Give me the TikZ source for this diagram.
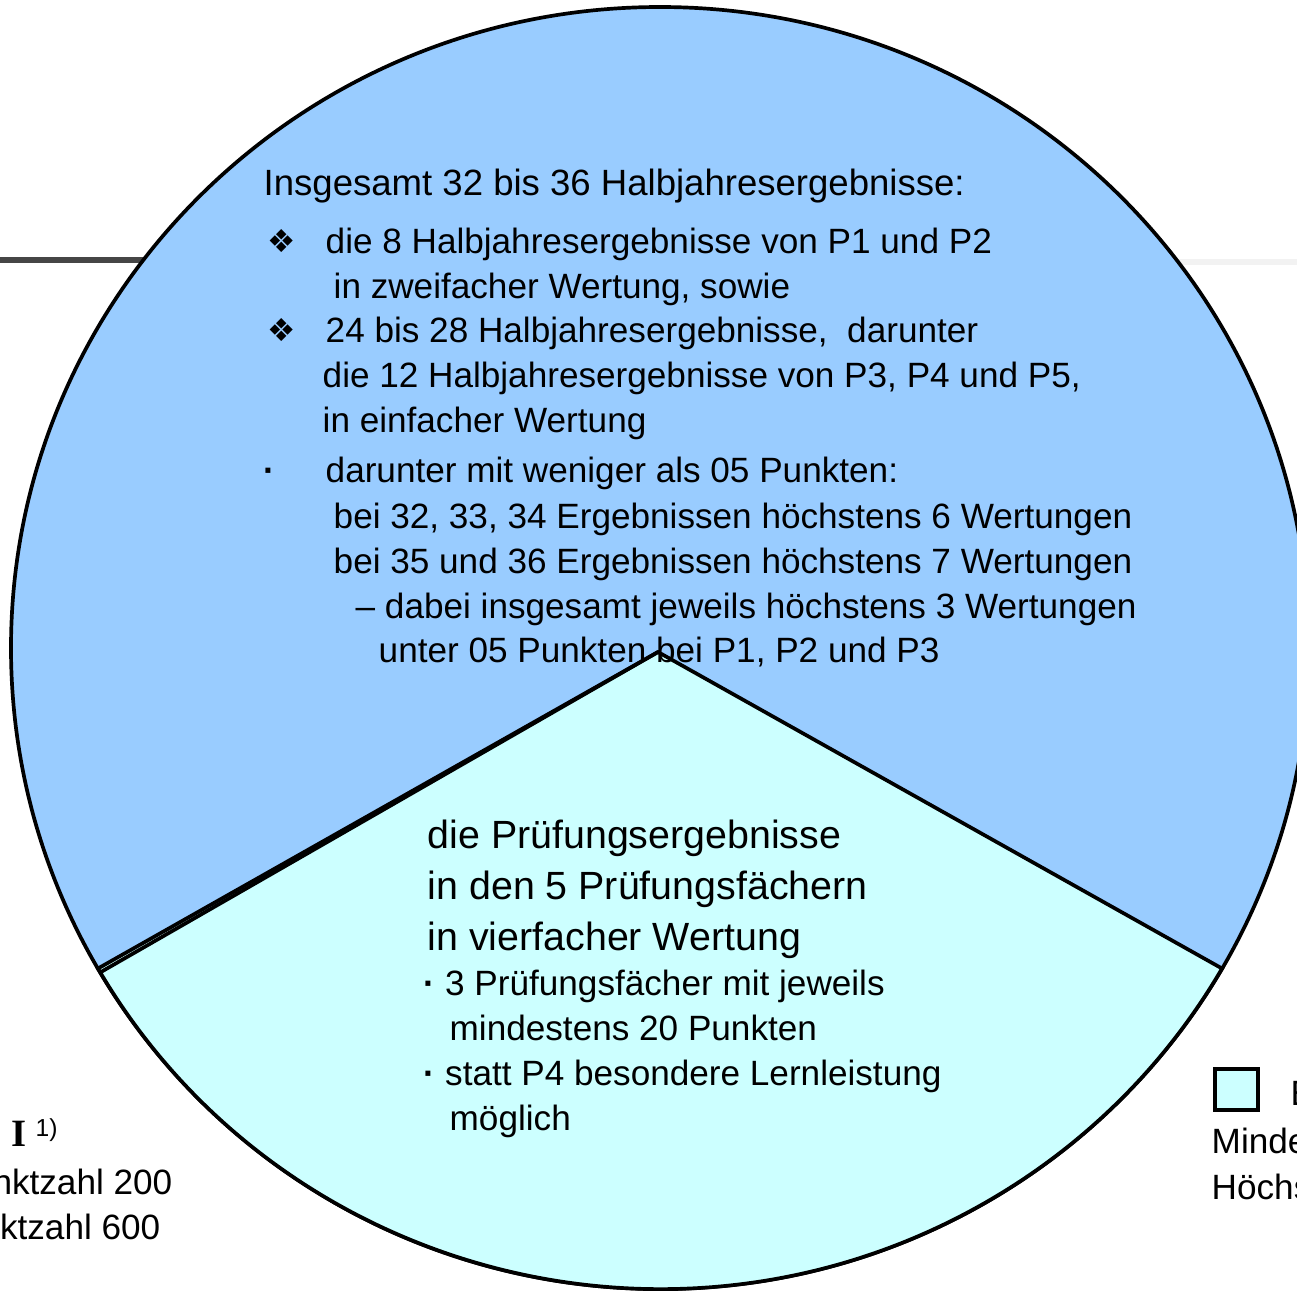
\documentclass[tikz,border=0pt]{standalone}
\usepackage{fontspec}
\usepackage{xcolor}
\setmainfont{Liberation Sans}
\newfontfamily\symfont{DejaVu Sans}
\newfontfamily\seriffont{Liberation Serif}
\usetikzlibrary{calc}
\definecolor{pieblue}{RGB}{153,204,255}
\definecolor{piecyan}{RGB}{204,255,255}
\definecolor{darkrule}{RGB}{70,70,70}
\definecolor{lightrule}{RGB}{242,242,242}

\tikzset{
  txt/.style={anchor=base west, inner sep=0pt, font=\fontsize{10}{12}\selectfont},
  bigtxt/.style={anchor=base west, inner sep=0pt, font=\fontsize{11.2}{13}\selectfont},
  sym/.style={anchor=base west, inner sep=0pt, font=\symfont\fontsize{9}{11}\selectfont},
  edge/.style={line width=1.05pt}
}

\begin{document}
\begin{tikzpicture}
  \useasboundingbox (0,0) rectangle (12.97,-12.90);
  \clip (0,0) rectangle (12.97,-12.90);

  % rules behind the chart
  \fill[darkrule] (0,-2.57) rectangle (1.6,-2.63);
  \fill[lightrule] (11.6,-2.59) rectangle (12.97,-2.65);

  % pie
  \coordinate (ec) at (6.60,-6.48);
  \coordinate (apex) at (6.58,-6.52);
  \filldraw[fill=pieblue, edge] (ec) ellipse [x radius=6.49, y radius=6.41];
  \filldraw[fill=piecyan, edge] (apex) -- ($(ec)+(210:6.49 and 6.41)$)
    arc[start angle=210, end angle=330, x radius=6.49, y radius=6.41] -- cycle;
  \draw[edge] (apex) -- ($(ec)+(210.4:6.49 and 6.41)$);

  % upper slice
  \node[txt, font=\fontsize{10.4}{12}\selectfont] (head) at (2.63,-1.95) {Insgesamt 32 bis 36 Halbjahresergebnisse:};
  \node[sym] (s1) at (2.67,-2.52) {❖};
  \node[txt] (a1) at (3.25,-2.53) {die 8 Halbjahresergebnisse von P1 und P2};
  \node[txt] (a2) at (3.33,-2.98) {in zweifacher Wertung, sowie};
  \node[sym] (s2) at (2.67,-3.41) {❖};
  \node[txt] (b1) at (3.25,-3.42) {24 bis 28 Halbjahresergebnisse,\ \ darunter};
  \node[txt] (b2) at (3.22,-3.87) {die 12 Halbjahresergebnisse von P3, P4 und P5,};
  \node[txt] (b3) at (3.22,-4.32) {in einfacher Wertung};
  \node[txt] (s3) at (2.63,-4.82) {\textbf{·}};
  \node[txt] (c1) at (3.25,-4.82) {darunter mit weniger als 05 Punkten:};
  \node[txt] (c2) at (3.33,-5.28) {bei 32, 33, 34 Ergebnissen höchstens 6 Wertungen};
  \node[txt] (c3) at (3.33,-5.73) {bei 35 und 36 Ergebnissen höchstens 7 Wertungen};
  \node[txt] (c4) at (3.55,-6.18) {– dabei insgesamt jeweils höchstens 3 Wertungen};
  \node[txt] (c5) at (3.78,-6.62) {unter 05 Punkten bei P1, P2 und P3};

  % lower slice
  \node[bigtxt] (p1) at (4.27,-8.48) {die Prüfungsergebnisse};
  \node[bigtxt] (p2) at (4.27,-8.99) {in den 5 Prüfungsfächern};
  \node[bigtxt] (p3) at (4.27,-9.50) {in vierfacher Wertung};
  \node[txt] (q1) at (4.23,-9.95) {\textbf{·} 3 Prüfungsfächer mit jeweils};
  \node[txt] (q2) at (4.49,-10.40) {mindestens 20 Punkten};
  \node[txt] (q3) at (4.23,-10.85) {\textbf{·} statt P4 besondere Lernleistung};
  \node[txt] (q4) at (4.49,-11.30) {möglich};

  % cut-off legend on the left
  \node[anchor=base west, inner sep=0pt, font=\seriffont\bfseries\fontsize{11}{13}\selectfont] (roman) at (0.11,-11.46) {I};
  \node[anchor=base west, inner sep=0pt, font=\fontsize{7}{8}\selectfont] (fn) at (0.35,-11.36) {1)};
  \node[txt, anchor=base east] (minl) at (1.73,-11.94) {nktzahl 200};
  \node[txt, anchor=base east] (maxl) at (1.61,-12.39) {ktzahl 600};

  % cut-off legend on the right
  \filldraw[fill=piecyan, edge] (12.15,-10.69) rectangle (12.58,-11.10);
  \node[txt] (keyr) at (12.90,-11.05) {E};
  \node[txt] (minr) at (12.11,-11.53) {Minde};
  \node[txt] (maxr) at (12.11,-11.99) {Höchs};
\end{tikzpicture}
\end{document}
